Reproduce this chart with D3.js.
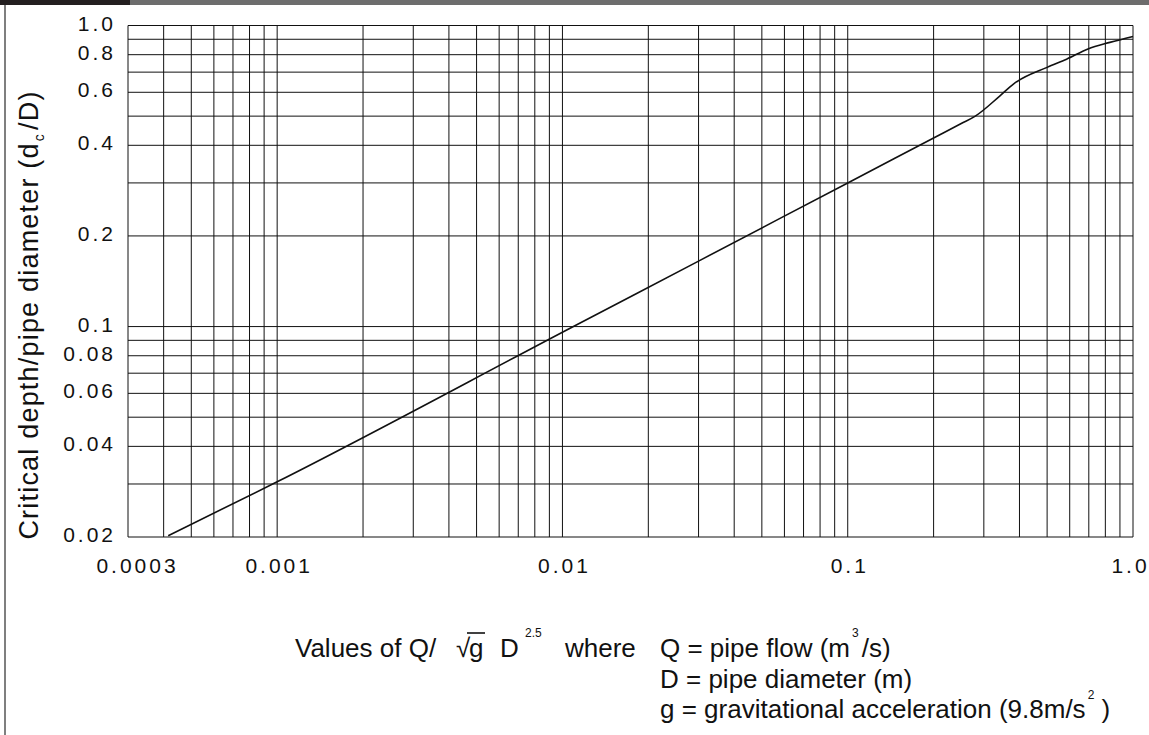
<!DOCTYPE html>
<html>
<head>
<meta charset="utf-8">
<script src="https://cdn.jsdelivr.net/npm/d3@7"></script>
<style>
  html, body { margin: 0; padding: 0; background: #fff; }
  svg { display: block; }
</style>
</head>
<body>
<div id="chart"></div>
<script>
// critical depth curve for a circular pipe
const qValues    = [0.000415, 0.001, 0.0108, 0.03, 0.1, 0.2, 0.25, 0.28, 0.341, 0.38, 0.5, 0.585, 0.695, 0.83, 1.0];
const depthRatio = [0.0202, 0.0305, 0.0995, 0.165, 0.3, 0.423, 0.4725, 0.5, 0.583, 0.638, 0.726, 0.773, 0.836, 0.879, 0.92];

const xTickValues = [0.0003, 0.001, 0.01, 0.1, 1.0];
const xTickLabels = ['0.0003', '0.001', '0.01', '0.1', '1.0'];
const yTickValues = [0.02, 0.04, 0.06, 0.08, 0.1, 0.2, 0.4, 0.6, 0.8, 1.0];
const yTickLabels = ['0.02', '0.04', '0.06', '0.08', '0.1', '0.2', '0.4', '0.6', '0.8', '1.0'];

const W = 1149, H = 735;
const PLOT = { left: 128, right: 1133, top: 25.5, bottom: 537 };
const FONT = '"Liberation Sans", Arial, sans-serif';
const INK = '#111';

const svg = d3.select('#chart').append('svg')
  .attr('width', W).attr('height', H);

// header strip and left rule
svg.append('rect').attr('x', 0).attr('y', 0).attr('width', W).attr('height', 5).attr('fill', '#6d6d6d');
svg.append('rect').attr('x', 0).attr('y', 0).attr('width', 130).attr('height', 5).attr('fill', '#231f20');
svg.append('line')
  .attr('x1', 5).attr('x2', 5).attr('y1', 5).attr('y2', H)
  .attr('stroke', '#555').attr('stroke-width', 1.5);

const x = d3.scaleLog().domain([0.0003, 1]).range([PLOT.left, PLOT.right]);
const y = d3.scaleLog().domain([0.02, 1]).range([PLOT.bottom, PLOT.top]);

// grid: every 1..9 multiple per decade
const grid = svg.append('g').attr('stroke', INK).attr('stroke-width', 1);
grid.selectAll('.vx')
  .data(x.ticks())
  .join('line')
  .attr('x1', d => x(d)).attr('x2', d => x(d))
  .attr('y1', PLOT.top).attr('y2', PLOT.bottom);
grid.selectAll('.hy')
  .data(y.ticks())
  .join('line')
  .attr('x1', PLOT.left).attr('x2', PLOT.right)
  .attr('y1', d => y(d)).attr('y2', d => y(d));

// tick labels
const xAxis = svg.append('g')
  .attr('transform', `translate(0, ${PLOT.bottom})`)
  .call(d3.axisBottom(x).tickValues(xTickValues).tickSize(0)
    .tickFormat((d, i) => xTickLabels[i]));
xAxis.select('.domain').remove();
xAxis.selectAll('text')
  .attr('font-family', FONT).attr('font-size', 21)
  .attr('letter-spacing', 3).attr('fill', INK)
  .attr('y', 36).attr('dy', 0)
  .attr('dx', (d, i) => i === 0 ? 9 : (i === xTickValues.length - 1 ? -3 : 1.5));

const yAxis = svg.append('g')
  .attr('transform', `translate(${PLOT.left}, 0)`)
  .call(d3.axisLeft(y).tickValues(yTickValues).tickSize(0)
    .tickFormat((d, i) => yTickLabels[i]));
yAxis.select('.domain').remove();
yAxis.selectAll('text')
  .attr('font-family', FONT).attr('font-size', 21)
  .attr('letter-spacing', 3).attr('fill', INK)
  .attr('x', -12).attr('dy', 4.5);

// curve
const line = d3.line()
  .x(d => x(d[0]))
  .y(d => y(d[1]))
  .curve(d3.curveMonotoneX);
svg.append('path')
  .datum(d3.zip(qValues, depthRatio))
  .attr('d', line)
  .attr('fill', 'none')
  .attr('stroke', INK)
  .attr('stroke-width', 1.6);

// y title
const yTitle = svg.append('text')
  .attr('transform', 'translate(38, 315) rotate(-90)')
  .attr('text-anchor', 'middle')
  .attr('font-family', FONT).attr('font-size', 27)
  .attr('letter-spacing', 1.2).attr('fill', INK);
yTitle.append('tspan').text('Critical depth/pipe diameter (d');
yTitle.append('tspan').attr('font-size', 14).attr('dy', 6).attr('dx', 1).text('c');
yTitle.append('tspan').attr('dy', -6).attr('dx', 3).text('/D)');

// x title block
const label = (tx, ty, size) => svg.append('text')
  .attr('x', tx).attr('y', ty)
  .attr('font-family', FONT).attr('font-size', size).attr('fill', INK);

label(295, 657, 26).text('Values of Q/');
label(456, 657, 26).text('\u221A');
label(469, 657, 26).text('g');
svg.append('line')
  .attr('x1', 467).attr('x2', 485).attr('y1', 633).attr('y2', 633)
  .attr('stroke', INK).attr('stroke-width', 1.6);
label(500, 657, 26).text('D');
label(525, 637, 12).text('2.5');
label(565, 657, 26).text('where');

const q = label(660, 657, 26);
q.append('tspan').text('Q = pipe flow (m');
q.append('tspan').attr('font-size', 12).attr('dy', -20).attr('dx', 2).text('3');
q.append('tspan').attr('dy', 20).attr('dx', 3).text('/s)');

label(660, 688, 26).text('D = pipe diameter (m)');

const g = label(660, 718, 26);
g.append('tspan').text('g = gravitational acceleration (9.8m/s');
g.append('tspan').attr('font-size', 12).attr('dy', -19).attr('dx', 2).text('2');
g.append('tspan').attr('dy', 19).text(' )');
</script>
</body>
</html>
